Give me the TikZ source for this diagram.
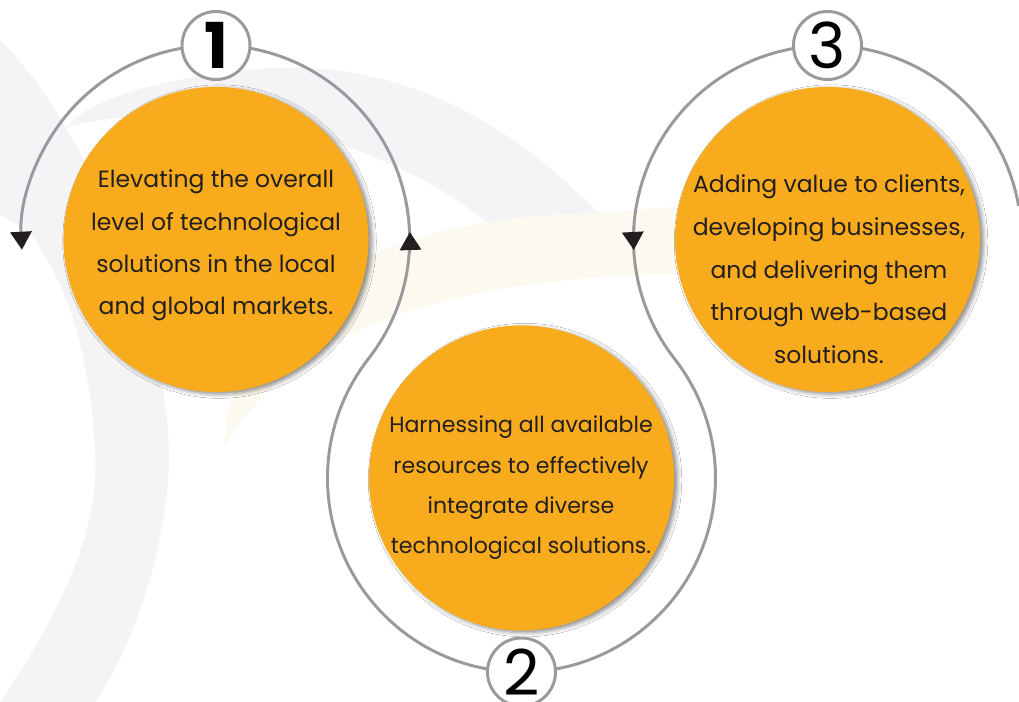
\documentclass[tikz,border=0pt]{standalone}
\usepackage{fontspec}
\setmainfont{Poppins}
\usetikzlibrary{arrows.meta,shadows.blur,calc}
\definecolor{ringgray}{HTML}{9A9A9E}
\definecolor{bubblecol}{HTML}{F8AB1D}
\definecolor{txtcol}{HTML}{231F20}
\definecolor{bggray}{HTML}{F4F4F7}
\definecolor{bgcream}{HTML}{FCF9F0}
\definecolor{tipcol}{HTML}{231F20}
\begin{document}
\begin{tikzpicture}[x=0.025cm,y=0.025cm,
  ring/.style={draw=ringgray,line width=2.1pt},
  bubble/.style={circle,fill=bubblecol,minimum size=7.625cm,inner sep=0pt,
    blur shadow={shadow xshift=2.5pt,shadow yshift=-1.5pt,shadow blur radius=3pt,shadow opacity=45}},
  numcircle/.style={circle,draw=ringgray,line width=2.1pt,fill=white,minimum size=1.7cm,inner sep=0pt,
    text=black,font=\fontsize{45}{45}\selectfont},
  bubbletext/.style={anchor=base,text=txtcol,inner sep=0pt},
  tipped/.style={-{Triangle[length=12.8pt,width=15pt,color=tipcol]}}
]
\useasboundingbox (0,0) rectangle (1019,702);
\fill[white] (0,0) rectangle (1019,702);
\begin{scope}
\clip (0,0) rectangle (1019,702);
% background swooshes (screen coordinates)
\begin{scope}[shift={(0,702)},yscale=-1]
  \fill[bggray] (0,40) .. controls (30,70) and (50,100) .. (70,135)
     .. controls (140,250) and (175,400) .. (168,480)
     .. controls (160,570) and (130,650) .. (95,702) -- (0,702)
     .. controls (70,600) and (100,520) .. (95,450)
     .. controls (90,360) and (70,290) .. (35,240)
     .. controls (25,228) and (10,220) .. (0,215) -- cycle;
  \fill[bggray] (65,128) .. controls (200,90) and (390,140) .. (490,225)
     -- (600,215) .. controls (500,110) and (380,55) .. (250,70)
     .. controls (150,80) and (90,100) .. (65,128) -- cycle;
  \fill[bgcream] (225,447) .. controls (225,300) and (380,215) .. (600,213)
     .. controls (720,200) and (850,208) .. (930,215) -- (930,290)
     .. controls (850,280) and (720,270) .. (640,275)
     .. controls (400,285) and (280,350) .. (225,447) -- cycle;
\end{scope}

\coordinate (C1) at (216,462.5);
\coordinate (C2) at (521.5,224);
\coordinate (C3) at (827.5,462.5);

% orange bubbles
\node[bubble] (b1) at (C1) {};
\node[bubble] (b2) at (C2) {};
\node[bubble] (b3) at (C3) {};

% the looping connector
\draw[ring,tipped] ($(C3)+(10:194)$) arc[start angle=10,end angle=217.93,radius=194]
   arc[start angle=37.93,end angle=-217.98,radius=194]
   arc[start angle=-37.98,end angle=183.1,radius=194];
\draw[ring,tipped] ($(C1)+(-4:194)$) arc[start angle=-4,end angle=2.2,radius=194];
\draw[ring,tipped] ($(C3)+(176:194)$) arc[start angle=176,end angle=183.1,radius=194];

% number circles
\node[numcircle] (n1) at ($(C1)+(90:194)$) {\bfseries 1};
\node[numcircle] (n2) at ($(C2)+(-90:194)$) {2};
\node[numcircle] (n3) at ($(C3)+(90:194)$) {3};

% texts
\node[bubbletext,font=\fontsize{16.7}{30}\selectfont] (t1) at (216,514)
  {\begin{tabular}[t]{@{}c@{}}Elevating the overall\\level of technological\\solutions in the local\\and global markets.\end{tabular}};
\node[bubbletext,font=\fontsize{15.7}{28.5}\selectfont] (t2) at (521,269)
  {\begin{tabular}[t]{@{}c@{}}Harnessing all available\\resources to effectively\\integrate diverse\\technological solutions.\end{tabular}};
\node[bubbletext,font=\fontsize{16.7}{30.3}\selectfont] (t3) at (829,509)
  {\begin{tabular}[t]{@{}c@{}}Adding value to clients,\\developing businesses,\\and delivering them\\through web-based\\solutions.\end{tabular}};
\end{scope}
\end{tikzpicture}
\end{document}
